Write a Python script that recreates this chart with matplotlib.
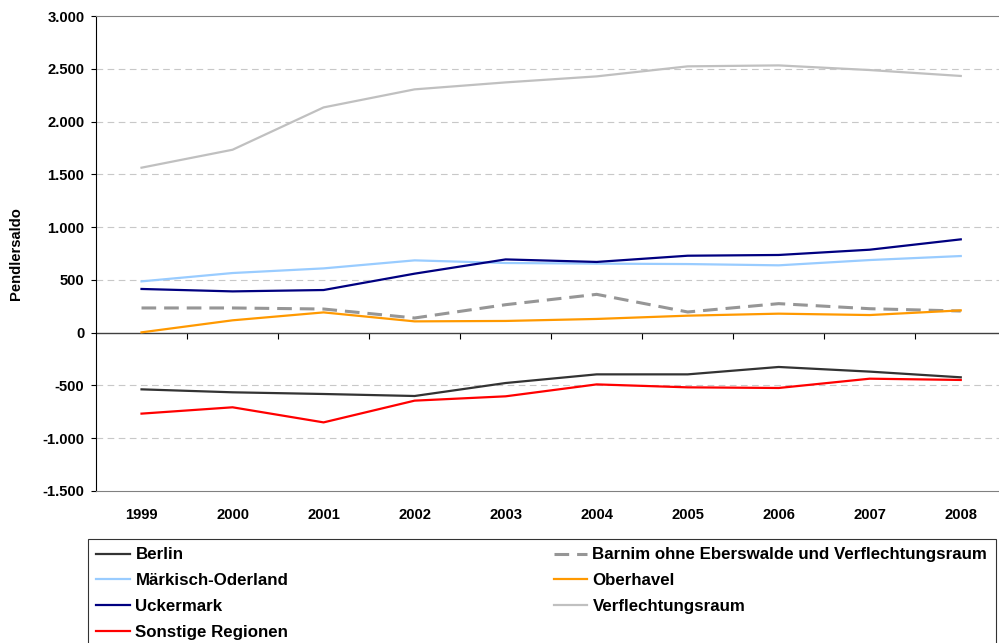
import matplotlib
matplotlib.use("Agg")
import matplotlib.pyplot as plt
from matplotlib.ticker import FuncFormatter

plt.rcParams['font.family'] = ['Liberation Sans', 'DejaVu Sans']
plt.rcParams['font.weight'] = 'bold'

years = ['1999', '2000', '2001', '2002', '2003', '2004', '2005', '2006', '2007', '2008']

berlin = [-537, -565, -581, -600, -477, -395, -395, -325, -369, -423]
maerkisch_oderland = [486, 565, 609, 685, 660, 654, 650, 638, 688, 726]
uckermark = [414, 391, 404, 559, 694, 670, 729, 736, 786, 884]
sonstige = [-767, -707, -850, -644, -603, -490, -518, -524, -436, -448]
barnim = [234, 234, 224, 139, 265, 363, 196, 275, 227, 205]
oberhavel = [3, 117, 192, 107, 111, 130, 161, 180, 167, 211]
verflechtungsraum = [1563, 1733, 2134, 2305, 2371, 2428, 2523, 2532, 2488, 2432]

series = [
    ('Berlin', berlin, '#333333', '-'),
    ('Märkisch-Oderland', maerkisch_oderland, '#99CCFF', '-'),
    ('Uckermark', uckermark, '#000080', '-'),
    ('Sonstige Regionen', sonstige, '#FF0000', '-'),
    ('Barnim ohne Eberswalde und Verflechtungsraum', barnim, '#969696', '--'),
    ('Oberhavel', oberhavel, '#FF9900', '-'),
    ('Verflechtungsraum', verflechtungsraum, '#C0C0C0', '-'),
]

fig = plt.figure(figsize=(9.99, 6.43), dpi=100)
ax = fig.add_axes([96 / 999, 1 - 491 / 643, 1 - 96 / 999, (491 - 16) / 643])

x = list(range(len(years)))
for label, vals, color, ls in series:
    if ls == '--':
        ax.plot(x, vals, color=color, lw=2.2, dashes=(4.8, 2.6), label=label)
    else:
        ax.plot(x, vals, color=color, lw=1.6, label=label)

ax.set_ylim(-1500, 3000)
ax.set_xlim(-0.5, 9.42)
ax.set_yticks(range(-1500, 3001, 500))
ax.yaxis.set_major_formatter(FuncFormatter(lambda v, p: f'{int(v):,}'.replace(',', '.')))
ax.set_xticks(x)
ax.set_xticklabels(years)
ax.tick_params(axis='x', length=0, pad=12.5, labelsize=10.6)
ax.tick_params(axis='y', length=3.3, width=0.8, labelsize=10.6, pad=5)

for v in range(-1000, 3000, 500):
    if v != 0:
        ax.axhline(v, color='#C8C8C8', lw=0.8, dashes=(6, 4), zorder=0)

ax.spines['right'].set_visible(False)
ax.spines['top'].set_color('#808080')
ax.spines['bottom'].set_color('#808080')
ax.spines['left'].set_color('black')

# category axis drawn through zero
zero_axis = ax.secondary_xaxis(1500 / 4500)
zero_axis.set_xticks([i + 0.5 for i in x[:-1]])
zero_axis.tick_params(axis='x', direction='out', length=4, width=0.8, labelbottom=False,
                      labeltop=False, bottom=True, top=False)
for side in ('bottom', 'top'):
    zero_axis.spines[side].set_color('#404040')
    zero_axis.spines[side].set_linewidth(1.0)

ax.set_ylabel('Pendlersaldo', fontsize=10.6, fontweight='bold', labelpad=14)

leg = fig.legend(loc='upper left', bbox_to_anchor=(88 / 999, 1 - 539 / 643),
                 ncol=2, fontsize=12.2, frameon=True, fancybox=False,
                 edgecolor='black', handlelength=2.0, handletextpad=0.3,
                 labelspacing=0.64, borderaxespad=0, borderpad=0.5,
                 columnspacing=15.65)
leg.get_frame().set_linewidth(0.8)

fig.savefig('out.png', dpi=100)
